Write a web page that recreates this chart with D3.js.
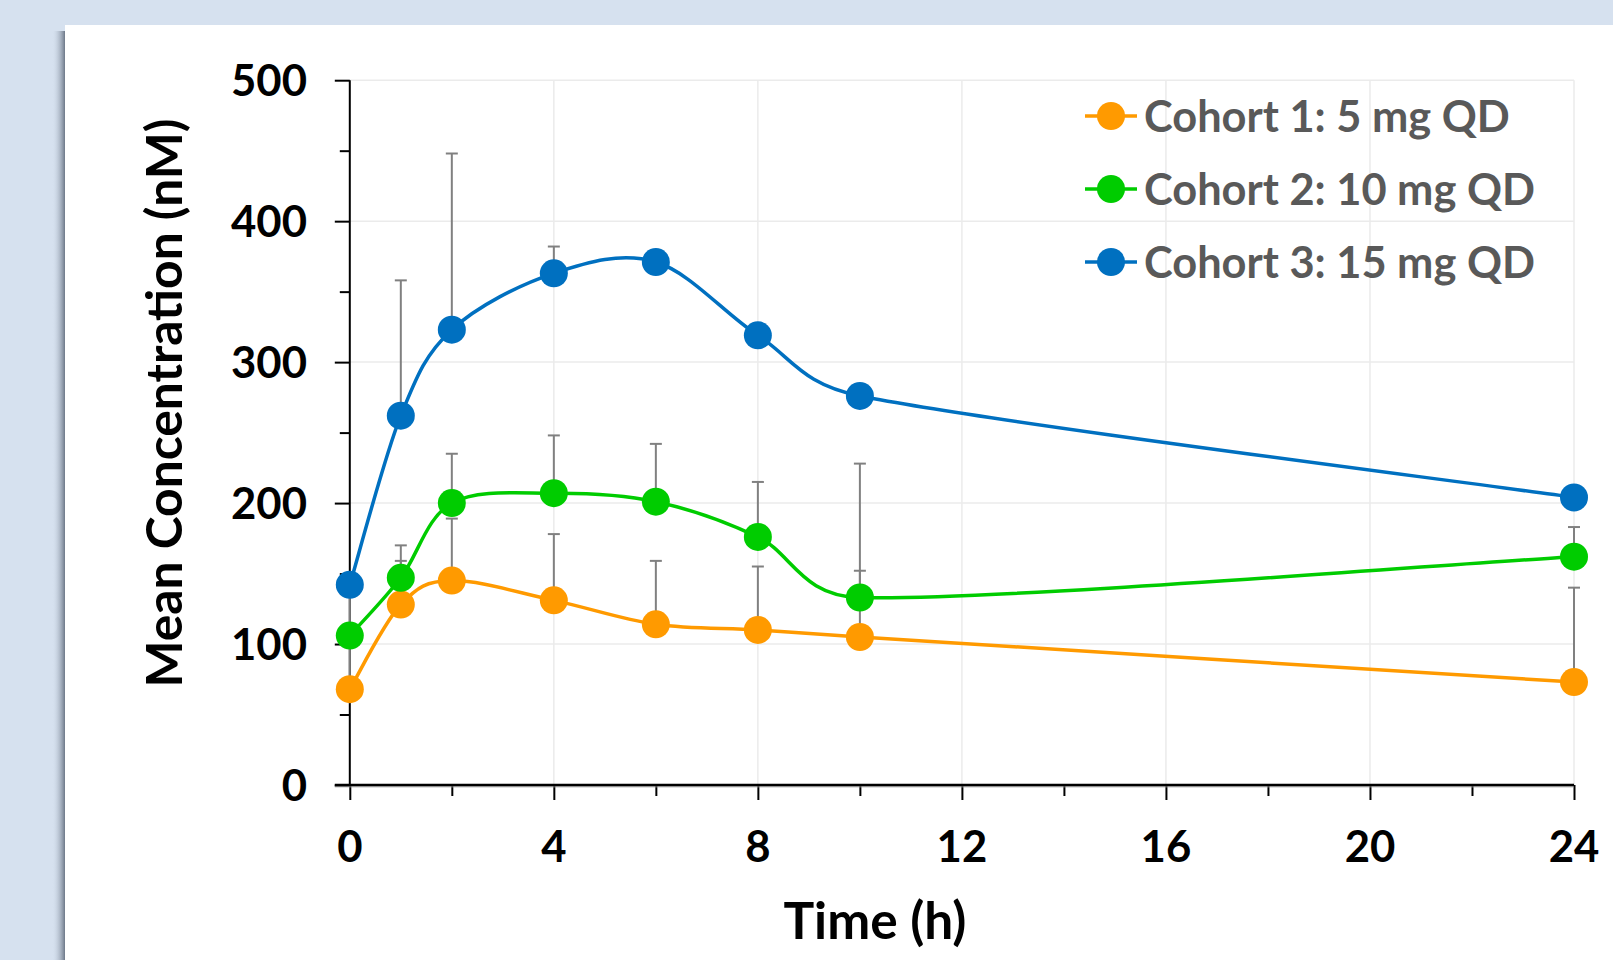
<!DOCTYPE html>
<html>
<head>
<meta charset="utf-8">
<script src="https://cdn.jsdelivr.net/npm/d3@7/dist/d3.min.js"></script>
<style>
  html, body { margin: 0; padding: 0; background: #d6e1ef; overflow: hidden; }
  svg { display: block; }
  text { font-family: Lato, "Open Sans", sans-serif; font-weight: 700; }
</style>
</head>
<body>
<svg id="chart" width="1613" height="960"></svg>
<script>
// data
const times = [0, 1, 2, 4, 6, 8, 10, 24]
const cohortNames = ["Cohort 1: 5 mg QD", "Cohort 2: 10 mg QD", "Cohort 3: 15 mg QD"]
const cohortColors = ["#ff9a00", "#00cc00", "#0070c0"]
const cohort1Mean = [68, 128, 145, 131, 114, 110, 105, 73]
const cohort1Upper = [100, 159, 189, 178, 159, 155, 152, 140]
const cohort2Mean = [106, 147, 200, 207, 201, 176, 133, 162]
const cohort2Upper = [145, 170, 235, 248, 242, 215, 228, 183]
const cohort3Mean = [142, 262, 323, 363, 371, 319, 276, 204]
const cohort3Upper = [null, 358, 448, 382, null, null, null, null]
const xTicks = [0, 4, 8, 12, 16, 20, 24]
const xMinorTicks = [2, 6, 10, 14, 18, 22]
const yTicks = [0, 100, 200, 300, 400, 500]
const yMinorTicks = [50, 150, 250, 350, 450]

const series = [
  { name: cohortNames[0], color: cohortColors[0], mean: cohort1Mean, upper: cohort1Upper },
  { name: cohortNames[1], color: cohortColors[1], mean: cohort2Mean, upper: cohort2Upper },
  { name: cohortNames[2], color: cohortColors[2], mean: cohort3Mean, upper: cohort3Upper }
]

const svg = d3.select("#chart")

const x = d3.scaleLinear([0, 24], [349.8, 1574])
const y = d3.scaleLinear([0, 500], [785, 80.2])

//scale a text's font so that it has a given width
function fitFont(sel, targetWidth) {
  sel.attr("font-size", 100)
  const w = sel.node().getComputedTextLength()
  const fs = 100 * targetWidth / w
  sel.attr("font-size", fs)
  return fs
}

//spreadsheet-style smoothed line: bezier with control points at 1/6 of the
//neighbour chord, shortened when that would overshoot a short segment
function smoothPath(pts) {
  const p = d3.path()
  const n = pts.length
  const dist = (a, b) => Math.hypot(b[0] - a[0], b[1] - a[1])
  p.moveTo(pts[0][0], pts[0][1])
  for (let i = 0; i < n - 1; i++) {
    const p0 = pts[Math.max(i - 1, 0)]
    const p1 = pts[i]
    const p2 = pts[i + 1]
    const p3 = pts[Math.min(i + 2, n - 1)]
    const d12 = dist(p1, p2)
    const d02 = dist(p0, p2)
    const d13 = dist(p1, p3)
    let f0 = 1 / 6
    let f1 = 1 / 6
    if (d02 / 6 >= d12 / 2) f0 = d12 / d02 / 2
    if (d13 / 6 >= d12 / 2) f1 = d12 / d13 / 2
    p.bezierCurveTo(
      p1[0] + (p2[0] - p0[0]) * f0, p1[1] + (p2[1] - p0[1]) * f0,
      p2[0] - (p3[0] - p1[0]) * f1, p2[1] - (p3[1] - p1[1]) * f1,
      p2[0], p2[1]
    )
  }
  return p.toString()
}

// panel with its shadow on the left
const defs = svg.append("defs")
const shadow = defs.append("linearGradient").attr("id", "shadow")
shadow.append("stop").attr("offset", "0").attr("stop-color", "#d6e1ef").attr("stop-opacity", 0)
shadow.append("stop").attr("offset", "1").attr("stop-color", "#6d7888").attr("stop-opacity", 1)
svg.append("rect")
  .attr("x", 52).attr("y", 31).attr("width", 13).attr("height", 940)
  .attr("fill", "url(#shadow)")
svg.append("rect")
  .attr("x", 65).attr("y", 25).attr("width", 1560).attr("height", 950)
  .attr("fill", "#ffffff")

// gridlines
svg.append("g")
  .selectAll("line")
  .data(yTicks.slice(1))
  .join("line")
  .attr("x1", x(0)).attr("x2", x(24))
  .attr("y1", d => y(d)).attr("y2", d => y(d))
  .attr("stroke", "#ebebeb").attr("stroke-width", 1.5)
svg.append("g")
  .selectAll("line")
  .data(xTicks.slice(1))
  .join("line")
  .attr("x1", d => x(d)).attr("x2", d => x(d))
  .attr("y1", y(0)).attr("y2", y(500))
  .attr("stroke", "#ebebeb").attr("stroke-width", 1.5)

// axes
const yAxis = svg.append("g").attr("transform", `translate(${x(0)},0)`)
  .call(d3.axisLeft(y).tickValues(yTicks).tickSize(15).tickFormat(""))
yAxis.call(g => g.select(".domain").remove())
yAxis.selectAll(".tick line").attr("stroke", "#000").attr("stroke-width", 2)
const yMinor = svg.append("g").attr("transform", `translate(${x(0)},0)`)
  .call(d3.axisLeft(y).tickValues(yMinorTicks).tickSize(10).tickFormat(""))
yMinor.call(g => g.select(".domain").remove())
yMinor.selectAll(".tick line").attr("stroke", "#000").attr("stroke-width", 2)
svg.append("line")
  .attr("x1", x(0)).attr("x2", x(0)).attr("y1", y(500)).attr("y2", y(0))
  .attr("stroke", "#000").attr("stroke-width", 2)

const xAxis = svg.append("g").attr("transform", `translate(0,${y(0)})`)
  .call(d3.axisBottom(x).tickValues(xTicks).tickSize(15).tickFormat(""))
xAxis.call(g => g.select(".domain").remove())
xAxis.selectAll(".tick line").attr("stroke", "#000").attr("stroke-width", 2)
const xMinor = svg.append("g").attr("transform", `translate(0,${y(0)})`)
  .call(d3.axisBottom(x).tickValues(xMinorTicks).tickSize(11).tickFormat(""))
xMinor.call(g => g.select(".domain").remove())
xMinor.selectAll(".tick line").attr("stroke", "#000").attr("stroke-width", 2)
svg.append("line")
  .attr("x1", x(0) - 15).attr("x2", x(24)).attr("y1", y(0) + 1.5).attr("y2", y(0) + 1.5)
  .attr("stroke", "#9a9a9a").attr("stroke-width", 2).attr("opacity", 0.6)
svg.append("line")
  .attr("x1", x(0) - 15).attr("x2", x(24)).attr("y1", y(0)).attr("y2", y(0))
  .attr("stroke", "#000").attr("stroke-width", 2.5)

// tick labels
const yLab = svg.append("g")
  .selectAll("text")
  .data(yTicks)
  .join("text")
  .attr("x", 307)
  .attr("text-anchor", "end")
  .attr("fill", "#000")
  .text(d => d)
const yFs = fitFont(yLab.filter(d => d === 500), 76)
yLab.attr("font-size", yFs).attr("y", d => y(d) + yFs * 0.36)

const xLab = svg.append("g")
  .selectAll("text")
  .data(xTicks)
  .join("text")
  .attr("x", d => x(d))
  .attr("text-anchor", "middle")
  .attr("fill", "#000")
  .text(d => d)
xLab.attr("font-size", yFs).attr("y", 846 + yFs * 0.36)

// axis titles
const yTitle = svg.append("text")
  .attr("text-anchor", "middle")
  .attr("fill", "#000")
  .text("Mean Concentration (nM)")
const yTitleFs = fitFont(yTitle, 569)
yTitle.attr("transform", `translate(${164 + yTitleFs * 0.36},403) rotate(-90)`)

const xTitle = svg.append("text")
  .attr("text-anchor", "middle")
  .attr("fill", "#000")
  .text("Time (h)")
const xTitleFs = fitFont(xTitle, 183)
xTitle.attr("x", 875).attr("y", 920 + xTitleFs * 0.36)

// series lines
series.forEach(s => {
  const pts = times.map((t, i) => [x(t), y(s.mean[i])])
  svg.append("path")
    .attr("d", smoothPath(pts))
    .attr("fill", "none")
    .attr("stroke", s.color)
    .attr("stroke-width", 3.5)
})

// error bars (upper only)
series.forEach(s => {
  const bars = times.map((t, i) => ({ t: t, v: s.mean[i], u: s.upper[i] })).filter(d => d.u !== null)
  const g = svg.append("g").attr("stroke", "#808080").attr("stroke-width", 2)
  g.selectAll("line.bar")
    .data(bars)
    .join("line")
    .attr("class", "bar")
    .attr("x1", d => x(d.t)).attr("x2", d => x(d.t))
    .attr("y1", d => y(d.v)).attr("y2", d => y(d.u))
  g.selectAll("line.cap")
    .data(bars)
    .join("line")
    .attr("class", "cap")
    .attr("x1", d => x(d.t) - 6).attr("x2", d => x(d.t) + 6)
    .attr("y1", d => y(d.u)).attr("y2", d => y(d.u))
})

// markers
series.forEach(s => {
  svg.append("g")
    .selectAll("circle")
    .data(times.map((t, i) => ({ t: t, v: s.mean[i] })))
    .join("circle")
    .attr("cx", d => x(d.t))
    .attr("cy", d => y(d.v))
    .attr("r", 14)
    .attr("fill", s.color)
})

// legend
const legendRowY = [116, 189, 262]
const legend = svg.append("g")
  .selectAll("g")
  .data(series)
  .join("g")
  .attr("transform", (d, i) => `translate(0,${legendRowY[i]})`)
legend.append("line")
  .attr("x1", 1085).attr("x2", 1137)
  .attr("stroke", d => d.color).attr("stroke-width", 3.5)
legend.append("circle")
  .attr("cx", 1111).attr("r", 14)
  .attr("fill", d => d.color)
const legendText = legend.append("text")
  .attr("x", 1144)
  .attr("fill", "#595959")
  .text(d => d.name)
const legFs = fitFont(legendText.filter((d, i) => i === 1), 391)
legendText.attr("font-size", legFs).attr("y", legFs * 0.36)
</script>
</body>
</html>
